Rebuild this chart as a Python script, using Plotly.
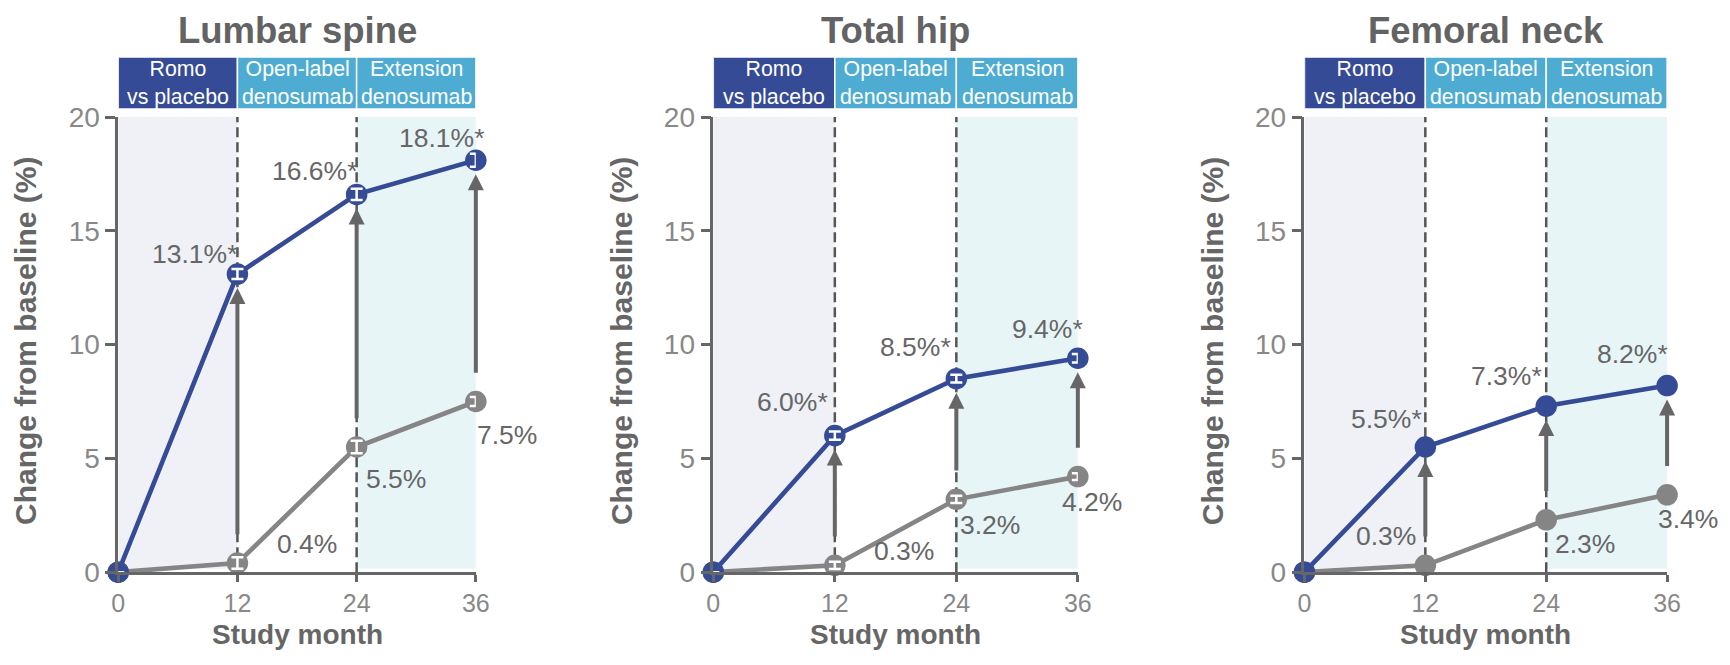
import plotly.graph_objects as go

# ---- data -------------------------------------------------------------
months = [0, 12, 24, 36]

site_titles = ["Lumbar spine", "Total hip", "Femoral neck"]

lumbar_romo = [0, 13.1, 16.6, 18.1]
lumbar_pbo = [0, 0.4, 5.5, 7.5]
hip_romo = [0, 6.0, 8.5, 9.4]
hip_pbo = [0, 0.3, 3.2, 4.2]
neck_romo = [0, 5.5, 7.3, 8.2]
neck_pbo = [0, 0.3, 2.3, 3.4]

# standard errors (femoral neck has none shown)
lumbar_romo_se = [0, 0.22, 0.25, 0.29]
lumbar_pbo_se = [0, 0.25, 0.27, 0.20]
hip_romo_se = [0, 0.18, 0.17, 0.19]
hip_pbo_se = [0, 0.16, 0.16, 0.15]
neck_romo_se = None
neck_pbo_se = None

phase_labels = ["Romo<br>vs placebo", "Open-label<br>denosumab", "Extension<br>denosumab"]
phase_bounds = [0, 12, 24, 36]

y_ticks = [0, 5, 10, 15, 20]
x_title = "Study month"
y_title = "Change from baseline (%)"

# ---- styling ----------------------------------------------------------
W, H = 1730, 665
FONT = "Liberation Sans, Arial, sans-serif"
BLUE = "#354b96"
GREY = "#858585"
CYAN = "#4eacd2"
ARROW = "#666666"
TXT = "#666666"
TICK = "#888888"
SHADE_1 = "#eff1f7"
SHADE_3 = "#e8f5f7"

# layout positions in canvas pixels (from top-left)
panel_px = [(112.6, 474.6), (715.0, 1084.0), (1313.4, 1680.5)]
y_top_px, y_bot_px = 107.0, 584.4
header_px = (44.0, 98.6)
title_py, xtitle_py = 16, 650
ytitle_dx = -92

# label offsets in pixels (dx, dy) for the three follow-up points
romo_label_off = [
    [(-43, 20), (-42, 23), (-34, 22)],
    [(-42, 34), (-41, 32), (-30, 29)],
    [(-39, 28), (-40, 30), (-35, 32)],
]
pbo_label_off = [
    [(70, 19), (39, -32), (31, -34)],
    [(69, 14), (34, -26), (14, -25)],
    [(-39, 29), (39, -24), (21, -24)],
]

sites = [
    (lumbar_romo, lumbar_pbo, lumbar_romo_se, lumbar_pbo_se),
    (hip_romo, hip_pbo, hip_romo_se, hip_pbo_se),
    (neck_romo, neck_pbo, neck_romo_se, neck_pbo_se),
]


def px(x):
    return x / W


def py(y):
    return (H - y) / H


fig = go.Figure()
shapes = []
annotations = []
layout = dict(
    width=W, height=H, autosize=False,
    margin=dict(l=0, r=0, t=0, b=0),
    paper_bgcolor="white", plot_bgcolor="white",
    showlegend=False,
    font=dict(family=FONT, color=TXT),
)

for k, (romo, pbo, romo_se, pbo_se) in enumerate(sites):
    n = "" if k == 0 else str(k + 1)
    xa, ya = "x" + n, "y" + n
    x0p, x1p = panel_px[k]

    axis_common = dict(
        showline=True, linecolor="#666666", linewidth=2.5,
        ticks="outside", tickwidth=2.5, tickcolor="#666666",
        showgrid=False, zeroline=False, fixedrange=True,
    )
    layout["xaxis" + n] = dict(
        domain=[px(x0p), px(x1p)], range=[0, 36], tickvals=months,
        anchor=ya, ticklen=7, tickfont=dict(family=FONT, size=25, color=TICK),
        **axis_common,
    )
    layout["yaxis" + n] = dict(
        domain=[py(y_bot_px), py(y_top_px)], range=[0, 20], tickvals=y_ticks,
        anchor=xa, ticklen=10, tickfont=dict(family=FONT, size=28, color=TICK),
        **axis_common,
    )

    # phase shading and dividers
    shapes.append(dict(type="rect", xref=xa, yref=ya, x0=phase_bounds[0], x1=phase_bounds[1],
                       y0=0.15, y1=20, fillcolor=SHADE_1, line_width=0, layer="below"))
    shapes.append(dict(type="rect", xref=xa, yref=ya, x0=phase_bounds[2], x1=phase_bounds[3],
                       y0=0.15, y1=20, fillcolor=SHADE_3, line_width=0, layer="below"))
    for b in phase_bounds[1:3]:
        shapes.append(dict(type="line", xref=xa, yref=ya, x0=b, x1=b, y0=0, y1=20,
                           line=dict(color="#555555", width=2.5, dash="10px,5px"), layer="below"))

    # phase header boxes
    for j, lab in enumerate(phase_labels):
        shapes.append(dict(type="rect", xref=xa, yref="paper",
                           x0=phase_bounds[j], x1=phase_bounds[j + 1],
                           y0=py(header_px[1]), y1=py(header_px[0]),
                           fillcolor=BLUE if j == 0 else CYAN,
                           line=dict(color="white", width=1.5)))
        annotations.append(dict(xref=xa, yref="paper",
                                x=(phase_bounds[j] + phase_bounds[j + 1]) / 2,
                                y=py(sum(header_px) / 2),
                                text=lab, showarrow=False, xanchor="center", yanchor="middle",
                                font=dict(family=FONT, size=21.3, color="white")))

    # panel title and axis titles
    annotations.append(dict(xref=xa + " domain", yref="paper", x=0.5, y=py(title_py),
                            text="<b>%s</b>" % site_titles[k], showarrow=False,
                            xanchor="center", yanchor="middle",
                            font=dict(family=FONT, size=36.5, color="#636363")))
    annotations.append(dict(xref=xa + " domain", yref="paper", x=0.5, y=py(xtitle_py),
                            text="<b>%s</b>" % x_title, showarrow=False,
                            xanchor="center", yanchor="middle",
                            font=dict(family=FONT, size=28, color=TXT)))
    annotations.append(dict(xref="paper", yref="paper", x=px(x0p), xshift=ytitle_dx,
                            y=py((y_top_px + y_bot_px) / 2 - 4),
                            text="<b>%s</b>" % y_title, showarrow=False, textangle=-90,
                            xanchor="center", yanchor="middle",
                            font=dict(family=FONT, size=30, color=TXT)))

    # series: placebo first so romosozumab sits on top
    for vals, se, col in ((pbo, pbo_se, GREY), (romo, romo_se, BLUE)):
        fig.add_trace(go.Scatter(
            x=months, y=vals, xaxis=xa, yaxis=ya, mode="lines+markers",
            line=dict(color=col, width=4.6),
            marker=dict(color=col, size=21.5, line=dict(width=0)),
            cliponaxis=False, hoverinfo="skip",
        ))
        if se is not None:
            # white error bars drawn over the markers
            fig.add_trace(go.Scatter(
                x=months, y=vals, xaxis=xa, yaxis=ya, mode="markers",
                marker=dict(color="rgba(0,0,0,0)", size=1),
                error_y=dict(type="data", array=se, visible=True,
                             color="white", thickness=2.5, width=6),
                cliponaxis=False, hoverinfo="skip",
            ))

    # value labels and difference arrows
    for i in range(1, 4):
        dx, dy = romo_label_off[k][i - 1]
        annotations.append(dict(xref=xa, yref=ya, x=months[i], y=romo[i],
                                xshift=dx, yshift=dy, text="%.1f%%*" % romo[i],
                                showarrow=False, xanchor="center", yanchor="middle",
                                font=dict(family=FONT, size=26.5, color=TXT)))
        dx, dy = pbo_label_off[k][i - 1]
        annotations.append(dict(xref=xa, yref=ya, x=months[i], y=pbo[i],
                                xshift=dx, yshift=dy, text="%.1f%%" % pbo[i],
                                showarrow=False, xanchor="center", yanchor="middle",
                                font=dict(family=FONT, size=26.5, color=TXT)))
        annotations.append(dict(xref=xa, yref=ya, x=months[i], y=romo[i],
                                axref=xa, ayref=ya, ax=months[i], ay=pbo[i] + 1.2,
                                text="", showarrow=True, arrowhead=2, arrowsize=0.8,
                                arrowwidth=4, arrowcolor=ARROW, standoff=14))

layout["shapes"] = shapes
layout["annotations"] = annotations
fig.update_layout(**layout)

fig.write_html("out.html")
